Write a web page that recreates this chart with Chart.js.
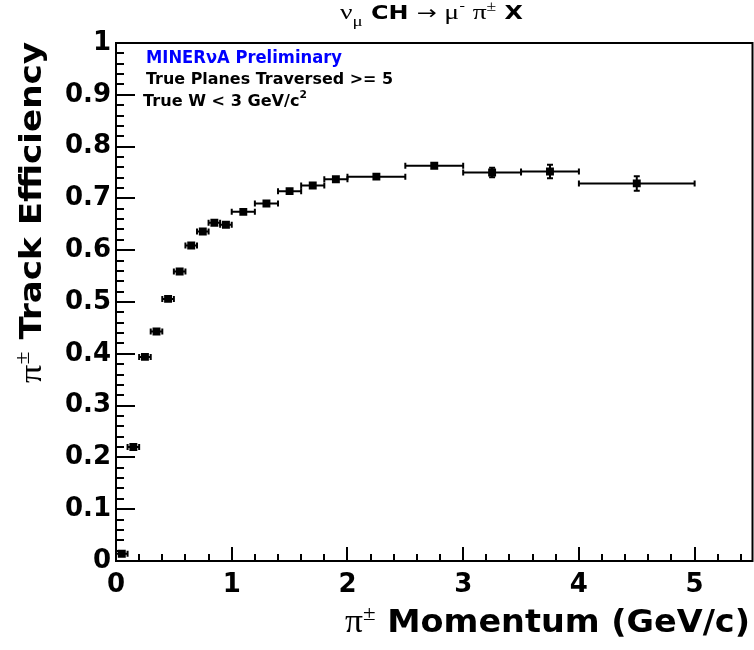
<!DOCTYPE html>
<html><head><meta charset="utf-8">
<script src="https://cdn.jsdelivr.net/npm/chart.js@4/dist/chart.umd.min.js"></script>
<style>html,body{margin:0;padding:0;background:#fff}#wrap{width:754px;height:650px;position:relative}</style>
</head><body><div id="wrap"><canvas id="c" width="754" height="650"></canvas></div>
<script>
// ---- data ----
const binCenters = [0.05,0.15,0.25,0.35,0.45,0.55,0.65,0.75,0.85,0.95,1.1,1.3,1.5,1.7,1.9,2.25,2.75,3.25,3.75,4.5];
const binHalfWidths = [0.05,0.05,0.05,0.05,0.05,0.05,0.05,0.05,0.05,0.05,0.1,0.1,0.1,0.1,0.1,0.25,0.25,0.25,0.25,0.5];
const efficiency = [0.014,0.220,0.394,0.443,0.506,0.559,0.609,0.636,0.653,0.649,0.674,0.690,0.714,0.725,0.737,0.742,0.763,0.750,0.752,0.729];
const efficiencyErr = [0.003,0.004,0.004,0.004,0.004,0.004,0.004,0.004,0.004,0.004,0.004,0.004,0.004,0.004,0.004,0.005,0.006,0.009,0.013,0.014];
const xTickValues = [0,1,2,3,4,5];
const xTickLabels = ['0','1','2','3','4','5'];
const yTickValues = [0,0.1,0.2,0.3,0.4,0.5,0.6,0.7,0.8,0.9,1];
const yTickLabels = ['0','0.1','0.2','0.3','0.4','0.5','0.6','0.7','0.8','0.9','1'];
const xMinorStep = 0.2;
const yMinorStep = 0.02;

const SANS = '"DejaVu Sans"';
const SERIF = '"Liberation Serif"';

function measureSegs(ctx, segs){
  let w = 0;
  for (const s of segs){ ctx.font = s.font; s.w = ctx.measureText(s.t).width; w += s.w; }
  return w;
}
function drawRich(ctx, segs, x, y, align, target){
  const w = measureSegs(ctx, segs);
  const sx = target ? target / w : 1;
  ctx.save();
  ctx.translate(x, y);
  ctx.scale(sx, 1);
  let cx = align === 'right' ? -w : (align === 'center' ? -w/2 : 0);
  ctx.textBaseline = 'alphabetic';
  ctx.textAlign = 'left';
  for (const s of segs){
    ctx.font = s.font;
    ctx.fillStyle = s.color || '#000';
    ctx.fillText(s.t, cx, s.dy || 0);
    cx += s.w;
  }
  ctx.restore();
}

const errorBarPlugin = {
  id: 'errorBars',
  beforeDatasetsDraw(chart){
    const {ctx, scales:{x, y}} = chart;
    ctx.save();
    ctx.strokeStyle = '#000';
    ctx.lineWidth = 2;
    ctx.lineCap = 'butt';
    binCenters.forEach((c, i) => {
      const px = x.getPixelForValue(c);
      const xl = x.getPixelForValue(c - binHalfWidths[i]);
      const xr = x.getPixelForValue(c + binHalfWidths[i]);
      const py = y.getPixelForValue(efficiency[i]);
      const yt = y.getPixelForValue(efficiency[i] + efficiencyErr[i]);
      const yb = y.getPixelForValue(efficiency[i] - efficiencyErr[i]);
      ctx.beginPath();
      ctx.moveTo(xl, py); ctx.lineTo(xr, py);
      ctx.moveTo(xl, py - 3); ctx.lineTo(xl, py + 3);
      ctx.moveTo(xr, py - 3); ctx.lineTo(xr, py + 3);
      ctx.moveTo(px, yt); ctx.lineTo(px, yb);
      if (py - yt > 4.5){
        ctx.moveTo(px - 3, yt); ctx.lineTo(px + 3, yt);
        ctx.moveTo(px - 3, yb); ctx.lineTo(px + 3, yb);
      }
      ctx.stroke();
    });
    ctx.restore();
  }
};

const framePlugin = {
  id: 'frame',
  afterDatasetsDraw(chart){
    const {ctx, chartArea:a, scales:{x, y}} = chart;
    ctx.save();
    ctx.strokeStyle = '#000';
    ctx.lineWidth = 2;
    ctx.beginPath();
    // x ticks (inside)
    for (let k = 0; k * xMinorStep <= x.max + 1e-9; k++){
      const v = +(k * xMinorStep).toFixed(6);
      const major = xTickValues.some(t => Math.abs(t - v) < 1e-6);
      const px = Math.round(x.getPixelForValue(v));
      ctx.moveTo(px, a.bottom); ctx.lineTo(px, a.bottom - (major ? 14 : 7));
    }
    // y ticks (inside)
    for (let k = 0; k * yMinorStep <= y.max + 1e-9; k++){
      const v = +(k * yMinorStep).toFixed(6);
      const major = yTickValues.some(t => Math.abs(t - v) < 1e-6);
      const py = Math.round(y.getPixelForValue(v));
      ctx.moveTo(a.left, py); ctx.lineTo(a.left + (major ? 19 : 8), py);
    }
    ctx.stroke();
    ctx.strokeRect(a.left, a.top, a.right - a.left, a.bottom - a.top);
    ctx.restore();
  }
};

const textPlugin = {
  id: 'texts',
  afterDraw(chart){
    const ctx = chart.ctx;
    // title
    drawRich(ctx, [
      {t:'\u03BD', font:'22px ' + SERIF},
      {t:'\u03BC', font:'15px ' + SERIF, dy:7},
      {t:' CH ', font:'bold 19px ' + SANS},
      {t:'\u2192', font:'19px ' + SANS},
      {t:' ', font:'19px ' + SANS},
      {t:'\u03BC', font:'22px ' + SERIF},
      {t:'-', font:'13px ' + SANS, dy:-9},
      {t:' ', font:'19px ' + SANS},
      {t:'\u03C0', font:'22px ' + SERIF},
      {t:'\u00B1', font:'14px ' + SERIF, dy:-8},
      {t:' X', font:'bold 19px ' + SANS}
    ], 340, 19, 'left', 183);
    // annotations
    drawRich(ctx, [{t:'MINER\u03BDA Preliminary', font:'bold 17px ' + SANS, color:'#0000ff'}], 146, 63, 'left', 196);
    drawRich(ctx, [{t:'True Planes Traversed >= 5', font:'bold 16.5px ' + SANS}], 146, 84, 'left', 247);
    drawRich(ctx, [
      {t:'True W < 3 GeV/c', font:'bold 16.5px ' + SANS},
      {t:'2', font:'bold 11px ' + SANS, dy:-8}
    ], 143, 105.5, 'left', 164);
    // x axis title
    drawRich(ctx, [
      {t:'\u03C0', font:'34px ' + SERIF},
      {t:'\u00B1', font:'22px ' + SERIF, dy:-12},
      {t:' Momentum (GeV/c)', font:'bold 32px ' + SANS}
    ], 750, 632, 'right', 405);
    // y axis title (rotated)
    ctx.save();
    ctx.translate(41, 42);
    ctx.rotate(-Math.PI / 2);
    drawRich(ctx, [
      {t:'\u03C0', font:'32px ' + SERIF},
      {t:'\u00B1', font:'21px ' + SERIF, dy:-12},
      {t:' Track Efficiency', font:'bold 30px ' + SANS}
    ], 0, 0, 'right', 341);
    ctx.restore();
  }
};

const tickFont = {family:'DejaVu Sans', weight:'bold', size:26};

new Chart(document.getElementById('c'), {
  type: 'scatter',
  data: {
    datasets: [{
      data: binCenters.map((c, i) => ({x: c, y: efficiency[i]})),
      pointStyle: 'rect',
      pointRadius: 5.6,
      pointHoverRadius: 5.6,
      backgroundColor: '#000',
      borderColor: '#000',
      borderWidth: 0
    }]
  },
  options: {
    responsive: false,
    animation: false,
    devicePixelRatio: 1,
    events: [],
    layout: {autoPadding: false, padding: {top: 43, right: 1.5, left: 0, bottom: 0}},
    plugins: {legend: {display: false}, title: {display: false}, tooltip: {enabled: false}},
    scales: {
      x: {
        type: 'linear', min: 0, max: 5.5,
        afterBuildTicks: s => { s.ticks = xTickValues.map(v => ({value: v})); },
        afterFit: s => { s.height = 89; s.paddingLeft = 0; s.paddingRight = 0; },
        grid: {display: false, drawTicks: false},
        border: {display: false},
        ticks: {padding: 9, maxRotation: 0, autoSkip: false, color: '#000', font: tickFont,
                callback: (v, i) => xTickLabels[i]}
      },
      y: {
        type: 'linear', min: 0, max: 1,
        afterBuildTicks: s => { s.ticks = yTickValues.map(v => ({value: v})); },
        afterFit: s => { s.width = 116; s.paddingTop = 0; s.paddingBottom = 0; },
        grid: {display: false, drawTicks: false},
        border: {display: false},
        ticks: {padding: 5, autoSkip: false, color: '#000', font: tickFont,
                callback: (v, i) => yTickLabels[i]}
      }
    }
  },
  plugins: [errorBarPlugin, framePlugin, textPlugin]
});
</script>
</body></html>
